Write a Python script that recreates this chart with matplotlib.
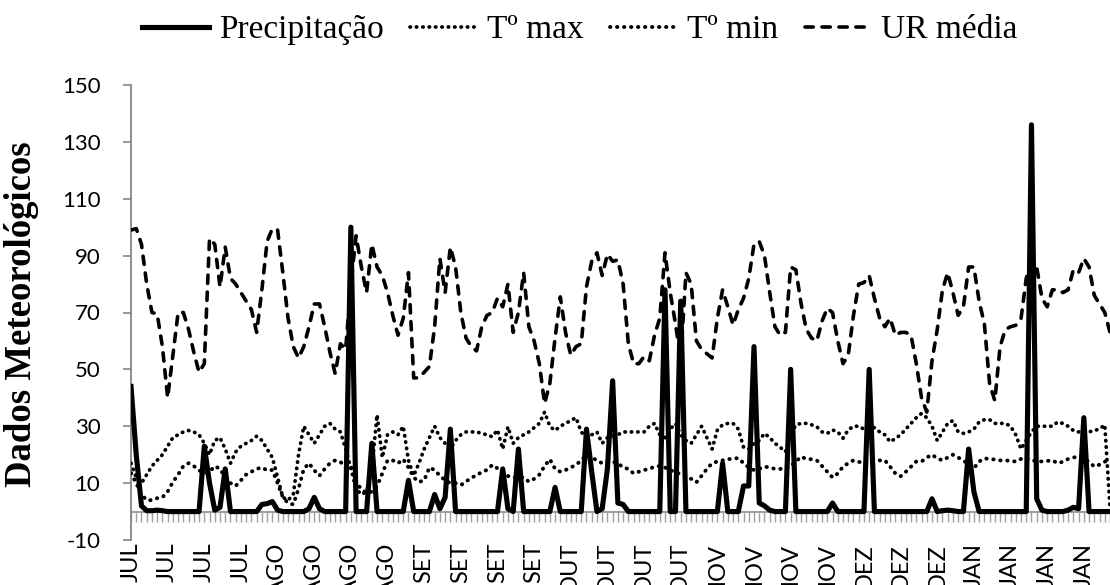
import numpy as np
import matplotlib.pyplot as plt

plt.rcParams["axes.unicode_minus"] = False

# daily values, jul -> jan
precipitacao = [
    44, 20, 2, 0.3, 0.3, 0.5, 0.3, 0, 0, 0,
    0, 0, 0, 0, 23, 10, 0.5, 1.5, 15, 0,
    0, 0, 0, 0, 0, 2.5, 2.8, 3.5, 0.5, 0,
    0, 0, 0, 0, 1, 5, 1, 0, 0, 0,
    0, 0, 100, 0, 0, 0, 24, 0, 0, 0,
    0, 0, 0, 11, 0, 0, 0, 0, 6, 1,
    5, 29, 0, 0, 0, 0, 0, 0, 0, 0,
    0, 15, 1, 0, 22, 0, 0, 0, 0, 0,
    0, 8.5, 0, 0, 0, 0, 0, 29, 14, 0,
    1, 15, 46, 3, 2.5, 0, 0, 0, 0, 0,
    0, 0, 78, 0, 0, 74, 0, 0, 0, 0,
    0, 0, 0, 17, 0, 0, 0, 9, 9, 58,
    3, 2, 0.5, 0, 0, 0, 50, 0, 0, 0,
    0, 0, 0, 0, 3, 0, 0, 0, 0, 0,
    0, 50, 0, 0, 0, 0, 0, 0, 0, 0,
    0, 0, 0, 4.5, 0, 0.3, 0.5, 0.3, 0, 0,
    22, 7, 0, 0, 0, 0, 0, 0, 0, 0,
    0, 0, 136, 4.5, 0.5, 0, 0, 0, 0, 0.5,
    1.5, 1, 33, 0, 0, 0, 0, 0,
]

t_max = [
    17, 12, 10, 13, 16, 18, 20, 23, 26, 27,
    28, 28.5, 28, 27, 24, 20, 25, 26, 22, 17,
    21, 23, 24, 25, 26.5, 25, 22, 19, 12, 5,
    4, 6, 20, 30, 27, 24, 27, 30, 31, 29,
    28, 22, 15, 8, 6, 7, 15, 34, 19, 27,
    28, 27, 30, 18, 12.6, 17, 22, 26, 30, 26,
    24, 22, 25, 27, 28, 28, 28, 27.5, 27, 26.3,
    28.7, 22, 29.8, 24, 26, 27, 28, 29.5, 31, 35,
    30, 28.5, 30, 31, 32, 33, 28, 26, 27, 28,
    24, 26, 26.5, 27, 28, 28, 28, 28, 28, 30,
    31, 27, 26, 29, 31, 27, 25, 24, 27, 30,
    26, 22, 28.7, 30.5, 31, 31, 29, 22.6, 22, 24,
    25, 27.5, 26, 24, 22.6, 21, 27, 30.5, 31, 31,
    30.5, 29.8, 28, 27.5, 28.7, 28, 25.8, 28.7, 30, 30,
    29, 30, 29.5, 28, 27, 24.5, 25.7, 27, 29, 31,
    33, 34.5, 33, 30, 25, 28, 31, 32, 28, 27.5,
    28, 29, 31.5, 32.3, 32.3, 31, 31, 31, 30, 27,
    22, 25, 28, 30, 30, 30, 30, 31.5, 31, 30,
    28.5, 28, 28.7, 28, 28.5, 29, 30.5, 1.5,
]

t_min = [
    13.5, 10, 6, 4, 4, 4.7, 5, 7, 10.4, 13,
    16, 17, 16, 14.5, 13.5, 14, 16, 15, 12, 10,
    9, 11, 13, 14, 15, 15.5, 14.5, 14.6, 10, 5,
    3, 2.5, 8, 15, 17, 14.5, 12.6, 15, 17, 18,
    17.5, 15.5, 16, 10, 8, 6.5, 7, 9, 13.4, 18,
    18, 17, 18.4, 15.5, 12, 10.4, 11, 15.5, 14.6, 12.6,
    11, 10, 10, 9.3, 10.5, 12, 12.6, 14, 14.6, 16.4,
    15.2, 14, 12.5, 12, 12, 12, 10.5, 11.5, 13, 16,
    18.4, 15, 14, 14.6, 15.5, 16.4, 18, 20, 19, 18,
    17, 17.5, 17.5, 17, 15.5, 15, 13.4, 14, 14.6, 15,
    15.8, 16, 15.5, 14.5, 14, 13, 12.5, 11.5, 10.3, 12.6,
    15, 17, 17.6, 18, 18.4, 18.6, 18.8, 17, 15.5, 14.6,
    15, 15.8, 15.5, 15, 15, 15, 16, 17.6, 19.3, 18.5,
    18.4, 18, 16, 14, 12, 13.4, 15.8, 17, 18, 17.5,
    17, 17.5, 18, 18, 18, 15.8, 13.4, 12.4, 14, 15.8,
    17.6, 17.6, 19, 20, 18.7, 18, 19, 20, 19, 18,
    16.4, 15.2, 17.6, 18.7, 18.5, 18.3, 18, 18, 17.8, 17.6,
    18.5, 18.7, 18, 17.8, 17.6, 17.8, 18, 17, 17.5, 18.5,
    19, 19.3, 18.5, 17.5, 15.8, 16.5, 17.5, 18.7,
]

ur_media = [
    99, 99.5, 94, 80, 70, 69.5, 58, 40, 55, 70,
    70, 64, 56, 49, 52, 96, 94, 79, 93, 82,
    80, 77, 74, 71, 63, 78, 95, 99.5, 99, 84,
    68, 58, 54, 58, 65, 73, 73, 65, 56, 48.5,
    59, 57, 80, 97, 86, 77, 94, 86, 83, 77,
    69, 62, 68, 84, 47, 47, 49, 51, 65, 89,
    77, 93, 86, 70, 61, 58, 56.5, 65, 69, 70,
    75, 72, 80, 63, 70, 84, 65, 60, 52, 38,
    45, 61, 75.5, 63, 55, 58, 59, 79, 88, 91,
    83, 90.5, 88, 88.5, 80, 59, 52, 52, 54.5, 53,
    62, 68, 91, 77, 66, 53.5, 84, 80, 60, 57,
    55.5, 54, 68, 78, 72, 65.6, 71, 75, 82, 94,
    95, 90, 77, 65, 62, 63, 86, 85, 73, 64,
    61, 60, 67, 71.5, 70, 60, 52, 55, 69, 80,
    80.5, 83, 75, 68, 65, 68, 62, 63, 63, 62,
    52, 40, 35, 53, 64, 78, 84, 77, 69, 72,
    86, 86, 74, 66, 45, 39, 58, 64, 65, 65.5,
    67.8, 82, 88, 86, 75, 72, 78, 78, 77, 78,
    85, 84, 89, 86, 76, 73, 70, 63,
]

month_labels = ["JUL", "JUL", "JUL", "JUL", "AGO", "AGO", "AGO", "AGO",
                "SET", "SET", "SET", "SET", "OUT", "OUT", "OUT", "OUT",
                "NOV", "NOV", "NOV", "NOV", "DEZ", "DEZ", "DEZ",
                "JAN", "JAN", "JAN", "JAN"]
label_step = 7

days = np.arange(len(precipitacao))
axis_grey = "#868686"

fig = plt.figure(figsize=(11.1, 5.85), dpi=100)
ax = fig.add_axes([131 / 1110, 1 - 540 / 585, 979 / 1110, 455 / 585])

ax.plot(days, precipitacao, color="black", lw=3.7, solid_joinstyle="round",
        label="Precipitação", zorder=5)
ax.plot(days, t_max, color="black", lw=2.7, linestyle=(0, (0.1, 1.6)),
        dash_capstyle="round", label="Tº max", zorder=3)
ax.plot(days, t_min, color="black", lw=2.8, linestyle=(0, (0.1, 1.7)),
        dash_capstyle="round", label="Tº min", zorder=3)
ax.plot(days, ur_media, color="black", lw=2.6, linestyle=(0, (2.3, 2.4)),
        dash_capstyle="round", label="UR média", zorder=3)

ax.set_xlim(0, len(days) - 1)
ax.set_ylim(-10, 150)
ax.set_yticks(range(-10, 151, 20))

for side in ["top", "right", "bottom"]:
    ax.spines[side].set_visible(False)
ax.spines["left"].set_color(axis_grey)
ax.spines["left"].set_linewidth(1.3)

ax.tick_params(axis="y", colors=axis_grey, length=6, width=1.2, pad=16,
               labelsize=16, labelcolor="black")
for t in ax.get_yticklabels():
    t.set_family("Lato")

# month labels sit below the plot, tick marks live on the zero line
ax.set_xticks(days[::label_step])
ax.set_xticklabels(month_labels, rotation=90, fontsize=17, family="Lato")
ax.tick_params(axis="x", length=0, pad=2)

zero_axis = ax.secondary_xaxis(10 / 160)
zero_axis.set_xticks(days)
zero_axis.tick_params(axis="x", direction="out", length=7, width=1.0,
                      colors="#a0a0a0", labelbottom=False)
zero_axis.spines["bottom"].set_color("#a0a0a0")
zero_axis.spines["bottom"].set_linewidth(1.5)

fig.text(22 / 1110, 1 - 314 / 585, "Dados Meteorológicos", rotation=90,
         fontsize=26.5, fontweight="bold", family="Liberation Serif",
         ha="center", va="center")

fig.legend(loc="center", bbox_to_anchor=(580 / 1110, 1 - 30 / 585), ncol=4,
           frameon=False, prop={"family": "Liberation Serif", "size": 24},
           handlelength=2.0, handletextpad=0.3, columnspacing=0.8)

fig.savefig("out.png", dpi=100)
